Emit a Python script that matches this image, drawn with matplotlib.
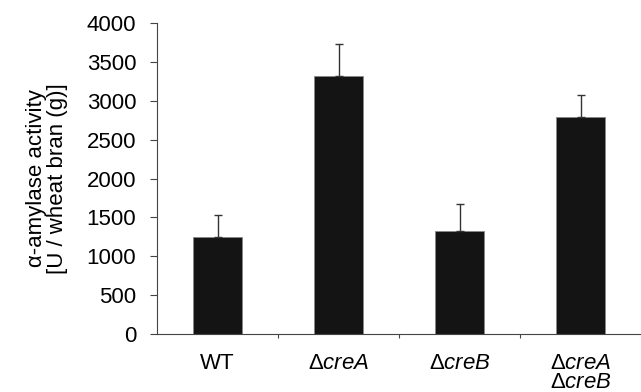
import matplotlib.pyplot as plt
import numpy as np

plt.rcParams['font.family'] = ['Liberation Sans', 'DejaVu Sans']
plt.rcParams['mathtext.fontset'] = 'custom'
plt.rcParams['mathtext.rm'] = 'Liberation Sans'
plt.rcParams['mathtext.it'] = 'Liberation Sans:italic'

strains = ['WT', r'$\Delta\mathit{creA}$', r'$\Delta\mathit{creB}$',
           '$\\Delta\\mathit{creA}$\n$\\Delta\\mathit{creB}$']
activity = [1250, 3315, 1325, 2790]
err_up = [280, 420, 345, 280]

fig = plt.figure(figsize=(6.41, 3.92), dpi=100)
ax = fig.add_axes([0.245, 0.148, 0.755, 0.793])

x = np.arange(len(strains))
ax.bar(x, activity, width=0.41, color='#141414', edgecolor='#888888', linewidth=0.6, zorder=2)
ax.errorbar(x, activity, yerr=[np.zeros(len(err_up)), err_up], fmt='none',
            ecolor='#333333', elinewidth=1, capsize=3, capthick=1, zorder=3)

ax.set_xlim(-0.5, 3.5)
ax.set_ylim(0, 4000)
ax.set_yticks(np.arange(0, 4001, 500))
ax.tick_params(axis='y', labelsize=16, length=5, width=0.8, color='#444444', pad=10)

ax.set_xticks([0.5, 1.5, 2.5])
ax.set_xticklabels([])
ax.set_xticks(x, minor=True)
ax.set_xticklabels(strains, minor=True, fontsize=16, linespacing=0.85)
ax.tick_params(axis='x', which='major', length=3, width=0.8, color='#444444', direction='out')
ax.tick_params(axis='x', which='minor', length=0, pad=14)

for s in ['top', 'right']:
    ax.spines[s].set_visible(False)
for s in ['left', 'bottom']:
    ax.spines[s].set_color('#444444')
    ax.spines[s].set_linewidth(0.8)

ax.set_ylabel('\u03b1-amylase activity\n[U / wheat bran (g)]', fontsize=16, linespacing=1.05)
ax.yaxis.set_label_coords(-0.183, 0.5)

fig.savefig('out.png', dpi=100)
